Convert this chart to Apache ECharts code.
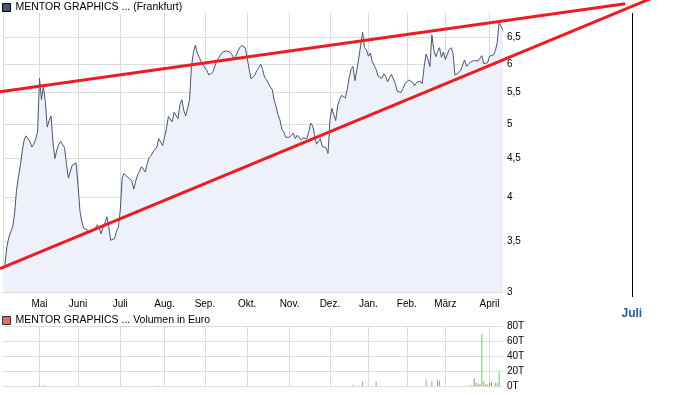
<!DOCTYPE html>
<html><head><meta charset="utf-8">
<script src="https://cdn.jsdelivr.net/npm/echarts@6/dist/echarts.min.js"></script>
<style>html,body{margin:0;padding:0;background:#fff}#c{width:688px;height:395px}</style>
</head><body><div id="c"></div>
<script>
const priceName = 'MENTOR GRAPHICS ... (Frankfurt)';
const volumeName = 'MENTOR GRAPHICS ... Volumen in Euro';
const monthLabels = ['Mai','Juni','Juli','Aug.','Sep.','Okt.','Nov.','Dez.','Jan.','Feb.','März','April'];
const monthIdx = [19,39,61,84,105,127,149,170,190,210,230,253];
const futureLabels = ['Juli'];
const futureIdx = [327];
const priceTicks = [3,3.5,4,4.5,5,5.5,6,6.5];
const priceMin = 3, priceMax = 7;
const volumeTickStep = 20000, volumeMax = 80000;
const lastIdx = 260;

const prices = [
3.22,3.26,3.44,3.54,3.60,3.65,3.80,4.08,4.25,4.40,
4.60,4.76,4.82,4.82,4.74,4.66,4.70,4.77,4.88,5.74,
5.38,5.60,5.35,4.95,5.05,5.12,4.72,4.50,4.62,4.70,
4.74,4.75,4.65,4.42,4.24,4.26,4.41,4.43,4.44,4.15,
3.84,3.71,3.64,3.63,3.62,3.59,3.62,3.60,3.64,3.68,
3.65,3.58,3.65,3.70,3.77,3.66,3.51,3.51,3.53,3.61,
3.65,3.85,4.25,4.30,4.27,4.25,4.23,4.20,4.10,4.20,
4.28,4.33,4.39,4.41,4.32,4.43,4.51,4.54,4.59,4.58,
4.66,4.78,4.80,4.68,4.80,4.93,5.11,5.09,5.03,5.18,
5.19,5.08,5.30,5.38,5.21,5.12,5.24,5.38,5.95,6.20,
6.35,6.20,6.12,6.04,5.98,5.97,5.88,5.80,5.78,5.84,
5.94,6.04,6.10,6.16,6.21,6.23,6.24,6.25,6.22,6.17,
6.10,6.14,6.22,6.30,6.34,6.35,6.30,6.10,5.90,5.73,
5.70,5.80,5.88,5.93,5.99,5.90,5.76,5.72,5.69,5.59,
5.55,5.37,5.27,5.14,5.06,4.92,4.88,4.80,4.81,4.80,
4.83,4.86,4.78,4.83,4.84,4.76,4.79,4.81,4.78,4.88,
5.01,4.97,4.84,4.70,4.71,4.78,4.67,4.66,4.65,4.57,
5.05,5.24,5.25,5.05,5.28,5.38,5.45,5.44,5.41,5.55,
5.75,5.90,5.95,5.70,5.89,6.10,6.35,6.60,6.30,6.26,
6.14,6.20,6.04,6.01,5.90,5.78,5.80,5.74,5.82,5.77,
5.68,5.75,5.81,5.73,5.65,5.52,5.55,5.50,5.57,5.65,
5.68,5.71,5.70,5.67,5.61,5.67,5.66,5.69,5.65,5.95,
6.18,6.08,5.95,6.55,6.27,6.13,6.22,6.30,6.12,6.22,
6.08,6.05,6.26,6.30,6.20,5.80,5.80,5.84,5.88,5.88,
6.07,5.95,5.98,6.03,6.05,6.06,6.08,6.05,6.07,6.15,
6.00,5.99,6.02,6.14,6.11,6.16,6.24,6.40,6.80,6.72,
6.64
];

const trendUpper = [[-1.56, 5.51], [323.5, 7.20]];
const trendLower = [[-1.56, 3.22], [341.7, 7.40]];

const volumeDays   = [19, 21, 81, 182, 187, 194, 220, 223, 226, 227, 243, 245, 246, 247, 248, 249, 250, 251, 252, 253, 254, 256, 257, 258];
const volumeValues = [1000,1000,800,1800,6200,6200,8900,6200,8400,7100,1300,10200,4900,3600,2200,68900,5800,2200,1800,4400,5800,4400,3600,18200];
const volumeUp     = [1,1,1,1,1,1,1,1,0,1,1,0,1,1,0,1,0,1,0,0,0,1,1,1];

const FONT = 'Liberation Sans, Arial, sans-serif';
const GRID_COLOR = '#dcdcdc';
const W = 688, H = 395;
const mainLeft = 3, mainWidth = 500, mainTop = 13, mainHeight = 279;
const futureWidth = W - mainLeft - mainWidth;
const pxPerIdx = mainWidth / lastIdx;
const futureMax = lastIdx + futureWidth / pxPerIdx;
const lnMin = Math.log(priceMin), lnMax = Math.log(priceMax);
const pxPerLn = mainHeight / (lnMax - lnMin);
// overlay axes spanning the whole canvas, aligned with the main price scale
const ovXMin = -mainLeft / pxPerIdx, ovXMax = (W - mainLeft) / pxPerIdx;
const ovYMin = lnMin - (H - mainTop - mainHeight) / pxPerLn, ovYMax = lnMax + mainTop / pxPerLn;

const fmtPrice = v => {
  const p = Math.round(Math.exp(v) * 10) / 10;
  return String(p).replace('.', ',');
};

const chart = echarts.init(document.getElementById('c'), null, {renderer: 'canvas'});
chart.setOption({
  animation: false,
  backgroundColor: '#fff',
  textStyle: {fontFamily: FONT},
  legend: [
    {data: [priceName], left: 2, top: 2, padding: 0, itemWidth: 8, itemHeight: 8, icon: 'rect',
     selectedMode: false, itemStyle: {borderColor: '#000', borderWidth: 1},
     textStyle: {fontSize: 10.5, color: '#000', fontFamily: FONT}},
    {data: [volumeName], left: 2, top: 315, padding: 0, itemWidth: 8, itemHeight: 8, icon: 'rect',
     selectedMode: false, itemStyle: {borderColor: '#333', borderWidth: 1},
     textStyle: {fontSize: 10.5, color: '#000', fontFamily: FONT}}
  ],
  grid: [
    {left: mainLeft, top: mainTop, width: mainWidth, height: mainHeight},
    {left: mainLeft, top: 326, width: mainWidth, height: 60},
    {left: mainLeft + mainWidth, top: mainTop, width: futureWidth, height: mainHeight},
    {left: 0, top: 0, width: W, height: H}
  ],
  xAxis: [
    {gridIndex: 0, type: 'value', min: 0, max: lastIdx,
     axisLine: {show: false},
     axisTick: {show: false, customValues: monthIdx},
     splitLine: {show: true, lineStyle: {color: GRID_COLOR, width: 1}},
     axisLabel: {customValues: monthIdx, margin: 7, fontSize: 10, color: '#000', fontFamily: FONT,
       formatter: v => monthLabels[monthIdx.indexOf(v)]}},
    {gridIndex: 1, type: 'value', min: 0, max: lastIdx,
     axisLine: {show: false},
     axisTick: {show: false, customValues: monthIdx},
     splitLine: {show: true, lineStyle: {color: GRID_COLOR, width: 1}},
     axisLabel: {show: false}},
    {gridIndex: 2, type: 'value', min: lastIdx, max: futureMax,
     axisLine: {show: false},
     axisTick: {show: true, customValues: futureIdx, length: 5, lineStyle: {color: '#000', width: 1}},
     splitLine: {show: true, lineStyle: {color: '#000', width: 1}},
     axisLabel: {customValues: futureIdx, margin: 16, fontSize: 12, fontWeight: 'bold', color: '#1f5fa6', fontFamily: FONT,
       formatter: v => futureLabels[futureIdx.indexOf(v)]}},
    {gridIndex: 3, type: 'value', min: ovXMin, max: ovXMax, show: false}
  ],
  yAxis: [
    {gridIndex: 0, type: 'value', position: 'right', min: lnMin, max: lnMax,
     axisLine: {show: true, lineStyle: {color: GRID_COLOR}},
     axisTick: {show: false, customValues: priceTicks.map(Math.log)},
     splitLine: {show: true, lineStyle: {color: GRID_COLOR, width: 1}},
     axisLabel: {customValues: priceTicks.map(Math.log), margin: 4, fontSize: 10, color: '#000', fontFamily: FONT,
       formatter: fmtPrice}},
    {gridIndex: 1, type: 'value', position: 'right', min: 0, max: volumeMax, interval: volumeTickStep,
     axisLine: {show: false}, axisTick: {show: false},
     splitLine: {show: true, lineStyle: {color: GRID_COLOR, width: 1}},
     axisLabel: {margin: 4, fontSize: 10, color: '#000', fontFamily: FONT,
       formatter: v => (v / 1000) + 'T'}},
    {gridIndex: 2, type: 'value', min: 0, max: 1, show: false},
    {gridIndex: 3, type: 'value', min: ovYMin, max: ovYMax, show: false}
  ],
  series: [
    {name: priceName, type: 'line', xAxisIndex: 0, yAxisIndex: 0,
     data: prices.map((p, i) => [i, Math.log(p)]),
     showSymbol: false, symbol: 'none',
     lineStyle: {color: '#4a5573', width: 1},
     itemStyle: {color: '#4a5573'},
     areaStyle: {color: '#eef1fa', opacity: 1, origin: 'start'},
     z: 2},
    {name: 'trendUpper', type: 'line', xAxisIndex: 3, yAxisIndex: 3,
     data: trendUpper.map(d => [d[0], Math.log(d[1])]),
     showSymbol: false, symbol: 'none',
     lineStyle: {color: '#ec1c24', width: 3}, z: 5},
    {name: 'trendLower', type: 'line', xAxisIndex: 3, yAxisIndex: 3,
     data: trendLower.map(d => [d[0], Math.log(d[1])]),
     showSymbol: false, symbol: 'none',
     lineStyle: {color: '#ec1c24', width: 3}, z: 5},
    {name: volumeName, type: 'bar', xAxisIndex: 1, yAxisIndex: 1, barWidth: 1,
     itemStyle: {color: '#d9706b'},
     data: volumeDays.map((d, i) => ({value: [d, volumeValues[i]],
       itemStyle: {color: volumeUp[i] ? '#66cc66' : '#d9706b'}}))}
  ]
});
</script>
</body></html>
